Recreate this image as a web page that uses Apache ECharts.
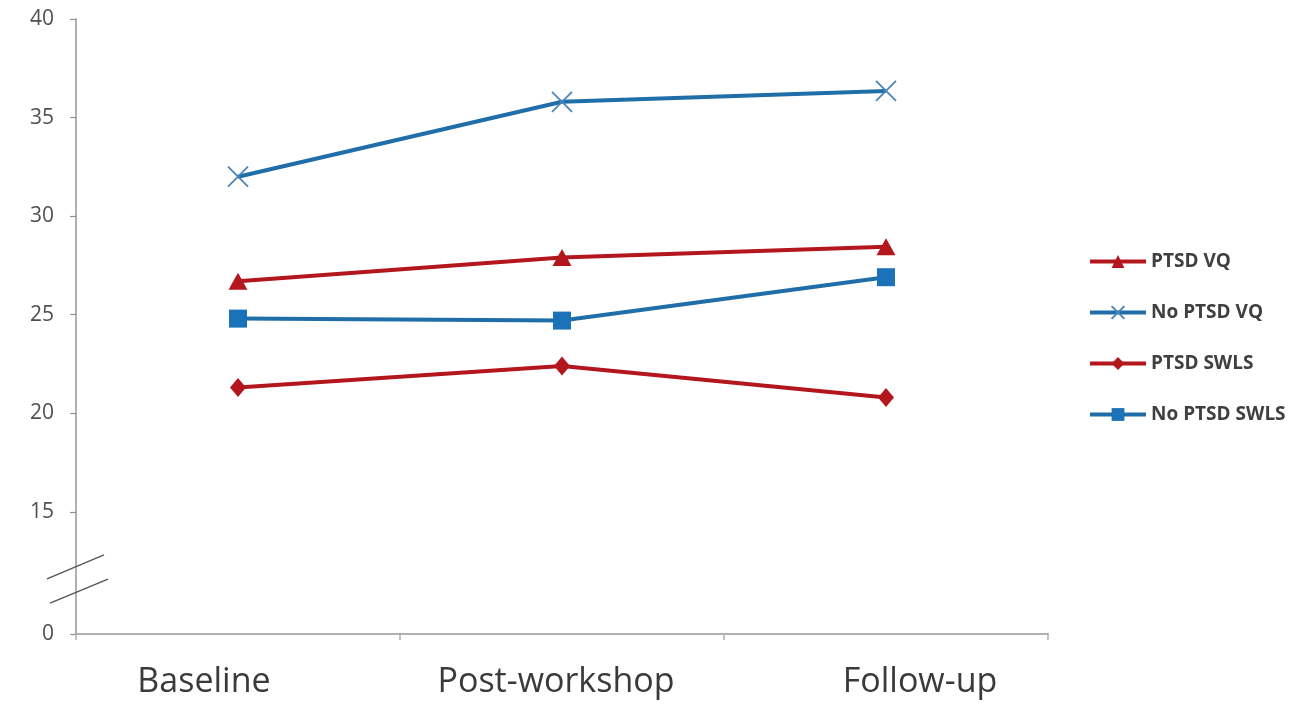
<!DOCTYPE html>
<html>
<head>
<meta charset="utf-8">
<script src="https://cdn.jsdelivr.net/npm/echarts@6/dist/echarts.min.js"></script>
<style>
html,body{margin:0;padding:0;background:#fff;}
#chart{width:1310px;height:704px;}
</style>
</head>
<body>
<div id="chart"></div>
<script>
// ---- data ----
const categories = ['Baseline', 'Post-workshop', 'Follow-up'];
const ptsdVQ = [26.7, 27.9, 28.45];
const noPtsdVQ = [32.0, 35.8, 36.35];
const ptsdSWLS = [21.3, 22.4, 20.8];
const noPtsdSWLS = [24.8, 24.7, 26.9];
// y axis: the "0" tick sits below a break in the axis
const breakValue = 8.8;          // axis position used for the "0" label
const yTickValues = [breakValue, 15, 20, 25, 30, 35, 40];
const yTickLabels = ['0', '15', '20', '25', '30', '35', '40'];

// ---- styles ----
const RED = '#b3161c';
const BLUE = '#1f6ea9';
const labelShift = [-34, -6, 34]; // per-category label nudges (px)
const font = '"Open Sans", Lato, sans-serif';

const chart = echarts.init(document.getElementById('chart'));

const richCat = {};
categories.forEach((c, i) => {
  const s = labelShift[i];
  richCat['c' + i] = {
    fontSize: 34, fontFamily: font, color: '#3a3a3a',
    padding: s < 0 ? [0, -2 * s, 0, 0] : [0, 0, 0, 2 * s]
  };
});

const xSymbol = 'path://M0,0 L10,10 M10,0 L0,10';

const option = {
  animation: false,
  backgroundColor: '#fff',
  grid: { left: 76, right: 262, top: 19, bottom: 70 },
  legend: {
    orient: 'vertical',
    left: 1088,
    top: 252,
    padding: 0,
    itemWidth: 56,
    itemHeight: 16,
    itemGap: 32,
    lineStyle: { width: 4 },
    textStyle: { fontSize: 19, fontFamily: font, color: '#404040', fontWeight: 'bold' },
    data: ['PTSD VQ', 'No PTSD VQ', 'PTSD SWLS', 'No PTSD SWLS']
  },
  xAxis: {
    type: 'category',
    data: categories,
    boundaryGap: true,
    axisLine: { lineStyle: { color: '#b0b0b0', width: 2 } },
    axisTick: { show: true, length: 6, lineStyle: { color: '#b0b0b0', width: 1.5 } },
    axisLabel: {
      margin: 31,
      formatter: (v, i) => '{c' + i + '|' + v + '}',
      rich: richCat
    },
    splitLine: { show: false }
  },
  yAxis: {
    type: 'value',
    min: breakValue,
    max: 40,
    axisLine: { show: true, lineStyle: { color: '#b0b0b0', width: 2 } },
    axisTick: { show: true, length: 6, customValues: yTickValues, lineStyle: { color: '#909090', width: 1.2 } },
    axisLabel: {
      customValues: yTickValues,
      margin: 22,
      fontSize: 21, fontFamily: font, color: '#505050',
      formatter: v => yTickLabels[yTickValues.indexOf(v)]
    },
    splitLine: { show: false }
  },
  series: [
    {
      name: 'PTSD VQ', type: 'line', data: ptsdVQ,
      symbol: 'triangle', symbolSize: [19, 17],
      lineStyle: { color: RED, width: 4 },
      itemStyle: { color: RED }
    },
    {
      name: 'No PTSD VQ', type: 'line', data: noPtsdVQ,
      symbol: xSymbol, symbolSize: 20,
      lineStyle: { color: BLUE, width: 4 },
      itemStyle: { color: 'rgba(0,0,0,0)', borderColor: '#4a86b8', borderWidth: 1.8 }
    },
    {
      name: 'PTSD SWLS', type: 'line', data: ptsdSWLS,
      symbol: 'diamond', symbolSize: [16, 19],
      lineStyle: { color: RED, width: 4 },
      itemStyle: { color: RED }
    },
    {
      name: 'No PTSD SWLS', type: 'line', data: noPtsdSWLS,
      symbol: 'rect', symbolSize: 18,
      lineStyle: { color: BLUE, width: 4 },
      itemStyle: { color: '#1b72b8' }
    }
  ]
};
chart.setOption(option);

// axis break marks, placed relative to the axis scale
function drawBreak() {
  const p0 = chart.convertToPixel({ gridIndex: 0 }, [0, 15]);
  const p1 = chart.convertToPixel({ gridIndex: 0 }, [1, 15]);
  const pBot = chart.convertToPixel({ gridIndex: 0 }, [0, breakValue]);
  const axisX = p0[0] - (p1[0] - p0[0]) / 2;
  const span = pBot[1] - p0[1];
  const ys = [p0[1] + 0.45 * span, p0[1] + 0.65 * span];
  chart.setOption({
    graphic: ys.map((y, k) => ({
      type: 'line',
      shape: { x1: axisX - 29 + k * 3, y1: y + 12, x2: axisX + 28 + k * 4, y2: y - 12 },
      style: { stroke: '#555', lineWidth: 1.4 },
      z: 100
    }))
  });
}
drawBreak();
</script>
</body>
</html>
